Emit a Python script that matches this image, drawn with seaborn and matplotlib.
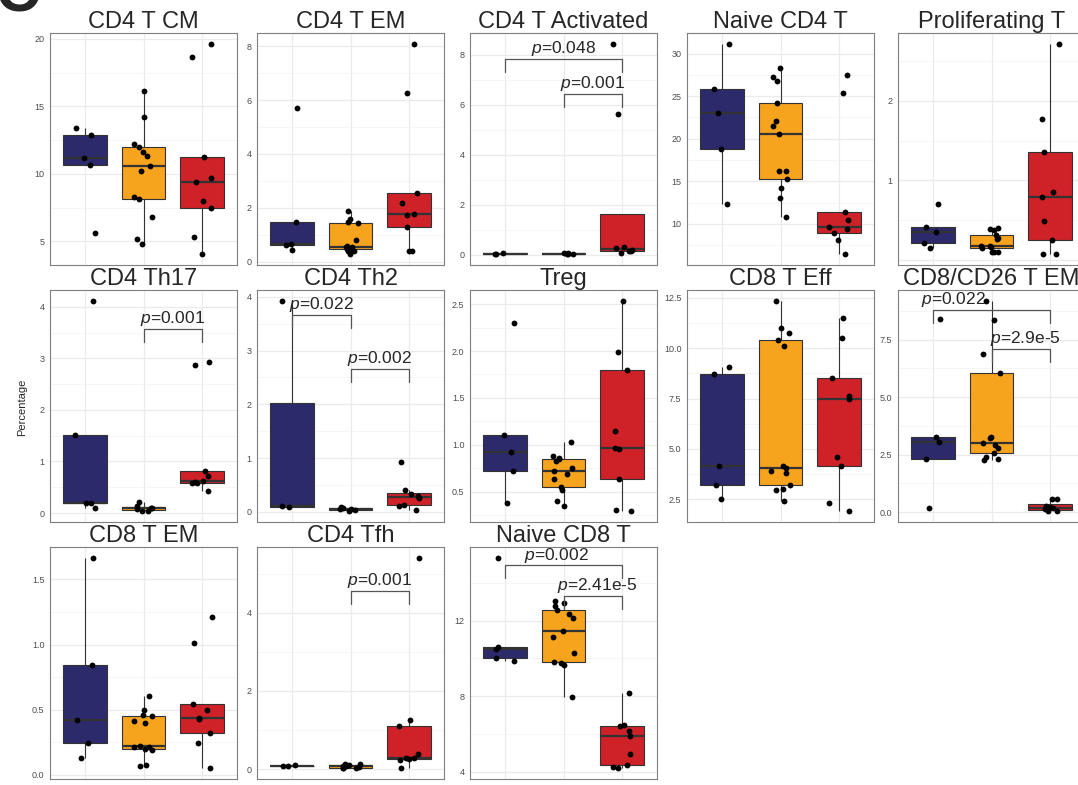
import numpy as np
import pandas as pd
import matplotlib
matplotlib.use("Agg")
import matplotlib.pyplot as plt
from matplotlib.ticker import FixedLocator
import seaborn as sns

sns.set_style("white")
plt.rcParams["font.family"] = ["Liberation Sans", "DejaVu Sans"]
plt.rcParams["mathtext.fontset"] = "custom"
plt.rcParams["mathtext.it"] = "Liberation Sans:italic"
plt.rcParams["mathtext.rm"] = "Liberation Sans"

# ---------------- data ----------------
groups = ["Group 1", "Group 2", "Group 3"]
group_colors = ["#2C2A6B", "#F6A31E", "#CE2128"]

titles = ["CD4 T CM", "CD4 T EM", "CD4 T Activated", "Naive CD4 T", "Proliferating T",
          "CD4 Th17", "CD4 Th2", "Treg", "CD8 T Eff", "CD8/CD26 T EM",
          "CD8 T EM", "CD4 Tfh", "Naive CD8 T"]

cd4_t_cm = [[13.37, 12.87, 11.18, 10.64, 5.65],
            [16.17, 14.18, 12.24, 11.97, 11.6, 11.33, 10.57, 10.2, 8.28, 8.13, 6.8, 5.16, 4.82],
            [19.66, 18.68, 11.25, 9.7, 9.41, 8.0, 7.49, 5.33, 4.03]]
cd4_t_em = [[5.72, 1.49, 0.65, 0.62, 0.43],
            [1.9, 1.6, 1.48, 1.45, 0.81, 0.59, 0.53, 0.53, 0.49, 0.47, 0.38, 0.38, 0.27],
            [8.1, 6.25, 2.56, 2.19, 1.78, 1.72, 1.29, 0.41, 0.41]]
cd4_t_activated = [[0.07, 0.03, 0.01],
                   [0.07, 0.05, 0.03, 0.02, 0.01],
                   [8.45, 5.64, 0.29, 0.28, 0.2, 0.16, 0.13, 0.05]]
naive_cd4_t = [[31.17, 25.8, 23.07, 18.75, 12.37],
               [28.25, 27.28, 26.8, 24.16, 22.1, 21.5, 20.54, 16.23, 16.2, 15.33, 14.24, 13.0, 10.86],
               [27.5, 25.33, 11.4, 10.47, 9.7, 9.38, 8.99, 8.09, 6.42]]
proliferating_t = [[0.71, 0.41, 0.35, 0.22, 0.15],
                   [0.40, 0.39, 0.375, 0.31, 0.28, 0.27, 0.18, 0.175, 0.167, 0.155, 0.096, 0.096, 0.096],
                   [2.72, 1.775, 1.354, 0.854, 0.79, 0.49, 0.25, 0.075, 0.07]]
cd4_th17 = [[4.12, 1.52, 0.2, 0.2, 0.097],
            [0.21, 0.14, 0.1, 0.1, 0.07, 0.04, 0.03],
            [2.92, 2.87, 0.81, 0.71, 0.62, 0.61, 0.59, 0.59, 0.43]]
cd4_th2 = [[3.93, 0.105, 0.086],
           [0.1, 0.08, 0.06, 0.05, 0.03, 0.01],
           [0.92, 0.4, 0.33, 0.29, 0.26, 0.135, 0.12, 0.03]]
treg = [[2.30, 1.10, 0.926, 0.716, 0.38],
        [1.032, 0.883, 0.858, 0.844, 0.83, 0.75, 0.72, 0.69, 0.63, 0.546, 0.52, 0.397, 0.344],
        [2.54, 1.986, 1.794, 1.142, 0.96, 0.954, 0.631, 0.298, 0.287]]
cd8_t_eff = [[9.06, 8.71, 4.16, 3.19, 2.5],
             [12.37, 11.0, 10.75, 10.41, 10.13, 4.13, 4.05, 3.88, 3.78, 3.18, 3.01, 2.96, 2.43],
             [11.5, 10.5, 8.53, 7.62, 7.49, 4.58, 4.16, 2.32, 1.89]]
cd8_cd26_t_em = [[8.39, 3.25, 3.03, 2.29, 0.16],
                 [9.2, 8.35, 6.87, 6.06, 3.26, 3.22, 3.0, 2.93, 2.78, 2.57, 2.41, 2.31, 2.25],
                 [0.58, 0.58, 0.25, 0.22, 0.17, 0.12, 0.06, 0.03]]
cd8_t_em = [[1.668, 0.842, 0.418, 0.24, 0.13],
            [0.607, 0.495, 0.462, 0.452, 0.416, 0.398, 0.222, 0.212, 0.212, 0.2, 0.19, 0.074, 0.066],
            [1.212, 1.015, 0.543, 0.5, 0.439, 0.428, 0.321, 0.247, 0.048]]
cd4_tfh = [[0.1, 0.07, 0.067],
           [0.13, 0.12, 0.1, 0.08, 0.067, 0.04, 0.025, 0.017, 0.015],
           [5.41, 1.255, 1.105, 0.385, 0.285, 0.27, 0.25, 0.24, 0.025]]
naive_cd8_t = [[15.35, 10.62, 10.52, 10.04, 9.87],
               [13.05, 12.95, 12.79, 12.56, 12.35, 12.17, 11.44, 11.13, 10.29, 9.83, 9.76, 9.64, 7.95],
               [8.17, 6.48, 6.43, 6.15, 5.9, 4.91, 4.37, 4.24, 4.17]]

panel_data = [cd4_t_cm, cd4_t_em, cd4_t_activated, naive_cd4_t, proliferating_t,
              cd4_th17, cd4_th2, treg, cd8_t_eff, cd8_cd26_t_em,
              cd8_t_em, cd4_tfh, naive_cd8_t]

y_ticks = [[5, 10, 15, 20], [0, 2, 4, 6, 8], [0, 2, 4, 6, 8], [10, 15, 20, 25, 30], [0, 1, 2],
           [0, 1, 2, 3, 4], [0, 1, 2, 3, 4], [0.5, 1.0, 1.5, 2.0, 2.5], [2.5, 5.0, 7.5, 10.0, 12.5],
           [0.0, 2.5, 5.0, 7.5], [0.0, 0.5, 1.0, 1.5], [0, 2, 4], [4, 8, 12]]
y_tick_labels = [["5", "10", "15", "20"], ["0", "2", "4", "6", "8"], ["0", "2", "4", "6", "8"],
                 ["10", "15", "20", "25", "30"], ["", "1", "2"],
                 ["0", "1", "2", "3", "4"], ["0", "1", "2", "3", "4"],
                 ["0.5", "1.0", "1.5", "2.0", "2.5"], ["2.5", "5.0", "7.5", "10.0", "12.5"],
                 ["0.0", "2.5", "5.0", "7.5"], ["0.0", "0.5", "1.0", "1.5"], ["0", "2", "4"],
                 ["4", "8", "12"]]

# significance annotations: (panel, group a, group b, bar height, p label, text shift)
annotations = [(2, 0, 2, 7.82, "0.048", 0.0), (2, 1, 2, 6.42, "0.001", 0.0),
               (5, 1, 2, 3.57, "0.001", 0.0),
               (6, 0, 1, 3.67, "0.022", 0.0), (6, 1, 2, 2.66, "0.002", 0.0),
               (9, 0, 2, 8.80, "0.022", -0.65), (9, 1, 2, 7.10, "2.9e-5", 0.08),
               (11, 1, 2, 4.56, "0.001", 0.0),
               (12, 0, 2, 14.93, "0.002", -0.12), (12, 1, 2, 13.33, "2.41e-5", 0.07)]

# ---------------- layout ----------------
W, H = 1078, 785
fig = plt.figure(figsize=(W / 100, H / 100), dpi=100)
col_left = [50, 257, 470, 687, 898]
row_top = [33, 290, 547]
pw, ph = 187, 232

np.random.seed(7)
axes = []
for i, vals in enumerate(panel_data):
    r, c = divmod(i, 5)
    ax = fig.add_axes([col_left[c] / W, 1 - (row_top[r] + ph) / H, pw / W, ph / H])
    axes.append(ax)
    df = pd.DataFrame({"group": np.repeat(groups, [len(v) for v in vals]),
                       "value": np.concatenate(vals)})
    sns.boxplot(data=df, x="group", y="value", hue="group", order=groups,
                hue_order=groups, palette=group_colors, saturation=1, width=0.75,
                showfliers=False, whis=1.5, linecolor="#333333", linewidth=0.8,
                legend=False, medianprops=dict(linewidth=1.6, color="#333333"),
                capprops=dict(linewidth=0), ax=ax)
    sns.stripplot(data=df, x="group", y="value", order=groups, color="black",
                  size=4.2, jitter=0.18, zorder=4, ax=ax)

    vmin, vmax = df["value"].min(), df["value"].max()
    pad = 0.05 * (vmax - vmin)
    lo, hi = vmin - pad, vmax + pad
    ax.set_ylim(lo, hi)
    ax.set_xlim(-0.6, 2.6)

    ticks = y_ticks[i]
    step = ticks[1] - ticks[0]
    ax.yaxis.set_major_locator(FixedLocator(ticks))
    ax.set_yticklabels(y_tick_labels[i])
    minors = [ticks[0] - step / 2] + [t + step / 2 for t in ticks]
    minors = [m for m in minors if lo <= m <= hi]
    ax.yaxis.set_minor_locator(FixedLocator(minors))

    ax.set_axisbelow(True)
    ax.grid(True, which="major", color="#EBEBEB", linewidth=0.9)
    ax.grid(True, which="minor", axis="y", color="#F3F3F3", linewidth=0.5)
    ax.tick_params(axis="y", which="major", length=2.5, width=0.5, color="#333333",
                   labelsize=6.5, labelcolor="#4D4D4D", pad=1.5)
    ax.tick_params(axis="y", which="minor", length=0)
    ax.tick_params(axis="x", which="major", length=2.5, width=0.5, color="#333333",
                   labelbottom=False)
    ax.set_xlabel("")
    ax.set_ylabel("")
    for sp in ax.spines.values():
        sp.set_color("#7F7F7F")
        sp.set_linewidth(0.8)
    ax.set_title(titles[i], fontsize=17, pad=3)

for (pi, ga, gb, yb, lab, dx) in annotations:
    ax = axes[pi]
    lo, hi = ax.get_ylim()
    leg = 0.056 * (hi - lo)
    ax.plot([ga, ga, gb, gb], [yb - leg, yb, yb, yb - leg], color="#555555",
            linewidth=0.9, zorder=5)
    ax.text((ga + gb) / 2 + dx, yb + 0.004 * (hi - lo), r"$\mathit{p}$=" + lab,
            ha="center", va="bottom", fontsize=12.5, zorder=6)

fig.text(22 / W, 1 - 407 / H, "Percentage", rotation=90, ha="center", va="center",
         fontsize=8)
# panel letter, cut by the top edge as in the source figure
fig.text(-5 / W, 1 - 11 / H, "C", fontsize=44, fontweight="bold", ha="left",
         va="baseline")

fig.savefig("out.png", dpi=100)
